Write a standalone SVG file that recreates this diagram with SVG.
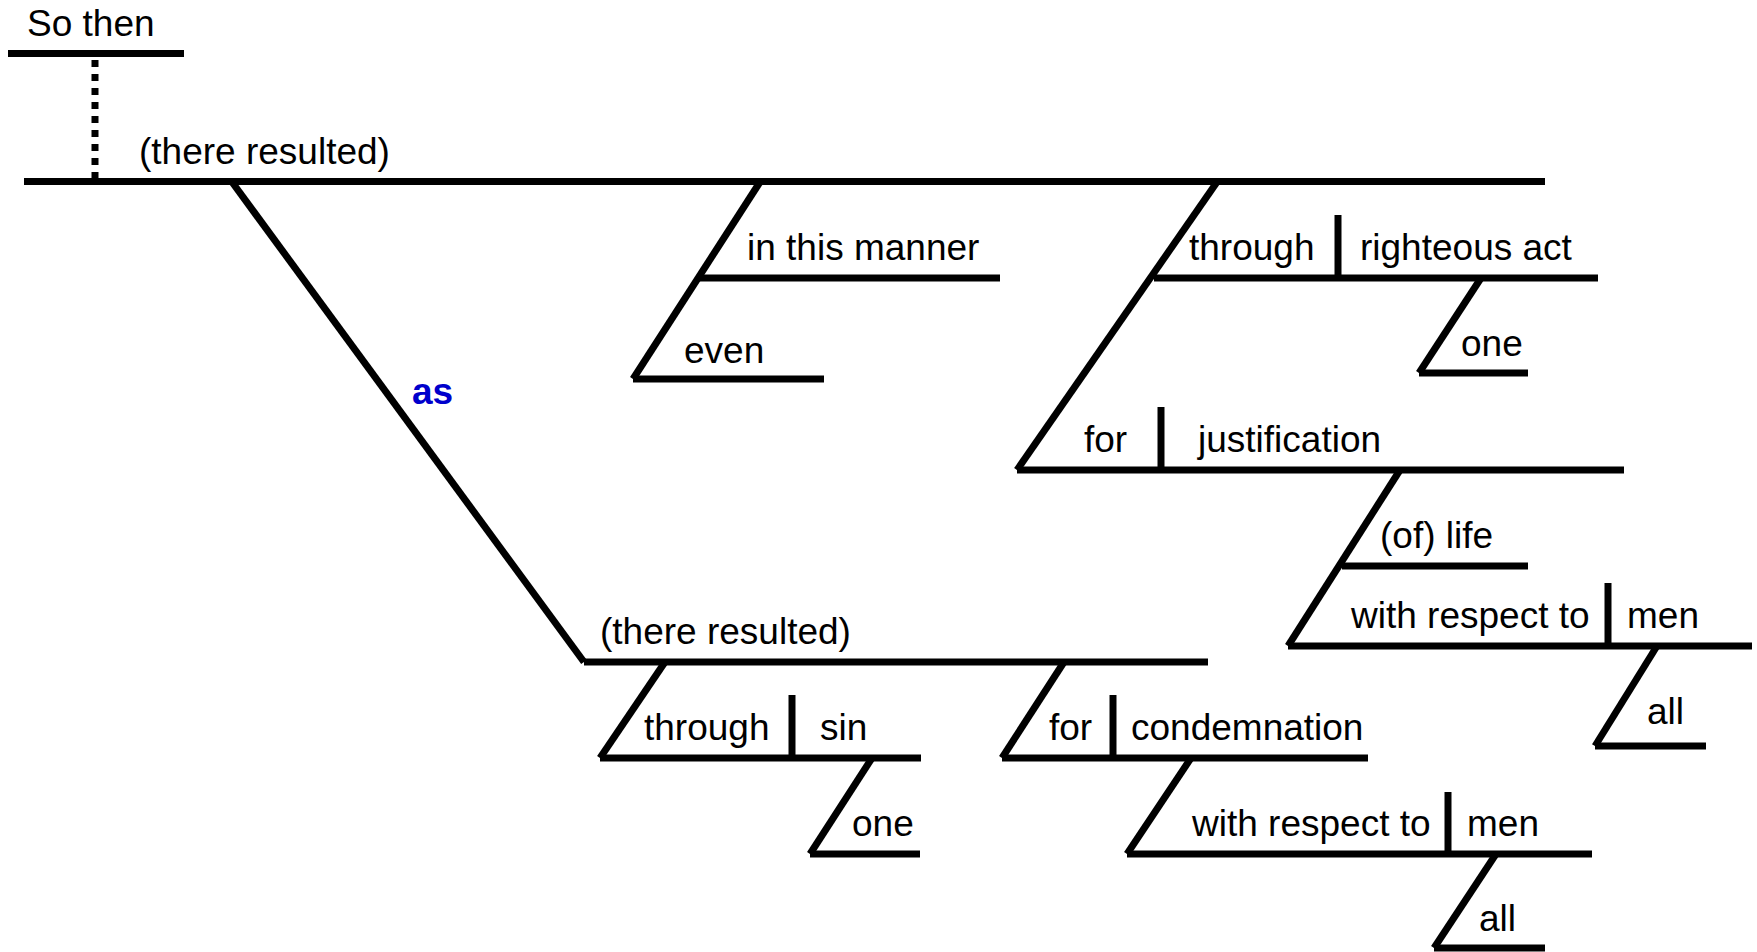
<svg xmlns="http://www.w3.org/2000/svg" width="1757" height="952" viewBox="0 0 1757 952">
  <style>
    .ln { stroke: #000; stroke-width: 7; fill: none; stroke-linecap: butt; }
    .dot { stroke: #000; stroke-width: 7; fill: none; stroke-dasharray: 7 7; }
    .t { font-family: "Liberation Sans", Arial, sans-serif; font-size: 37px; fill: #000; }
    .conj { font-family: "Liberation Sans", Arial, sans-serif; font-size: 37px; font-weight: bold; fill: #0000cc; }
  </style>
  <rect width="1757" height="952" fill="#fff"/>

  <!-- slanted and dotted connectors -->
  <g id="connectors">
    <line class="dot" x1="95" y1="60" x2="95" y2="178"/>
    <line class="ln" x1="232" y1="182" x2="584" y2="662"/>
    <line class="ln" x1="760" y1="182" x2="633" y2="379"/>
    <line class="ln" x1="1217" y1="182" x2="1017" y2="470"/>
    <line class="ln" x1="1481" y1="278" x2="1419" y2="373"/>
    <line class="ln" x1="1400" y1="470" x2="1288" y2="646"/>
    <line class="ln" x1="1657" y1="646" x2="1595" y2="746"/>
    <line class="ln" x1="665" y1="662" x2="600" y2="758"/>
    <line class="ln" x1="872" y1="758" x2="810" y2="854"/>
    <line class="ln" x1="1064" y1="662" x2="1002" y2="758"/>
    <line class="ln" x1="1191" y1="758" x2="1127" y2="854"/>
    <line class="ln" x1="1496" y1="854" x2="1434" y2="948"/>
    <text class="conj" x="412" y="404">as</text>
  </g>

  <g id="so-then">
    <line class="ln" x1="8" y1="53.5" x2="184" y2="53.5"/>
    <text class="t" x="27" y="36">So then</text>
  </g>

  <g id="main-clause">
    <line class="ln" x1="24" y1="181.5" x2="1545" y2="181.5"/>
    <text class="t" x="139" y="164">(there resulted)</text>
  </g>

  <g id="in-this-manner">
    <line class="ln" x1="698" y1="278" x2="1000" y2="278"/>
    <text class="t" x="747" y="260">in this manner</text>
  </g>

  <g id="even">
    <line class="ln" x1="633" y1="379" x2="824" y2="379"/>
    <text class="t" x="684" y="363">even</text>
  </g>

  <g id="through-righteous-act">
    <line class="ln" x1="1154" y1="278" x2="1598" y2="278"/>
    <line class="ln" x1="1338" y1="215" x2="1338" y2="278"/>
    <text class="t" x="1189" y="260">through</text>
    <text class="t" x="1360" y="260">righteous act</text>
  </g>

  <g id="one-upper">
    <line class="ln" x1="1419" y1="373" x2="1528" y2="373"/>
    <text class="t" x="1461" y="356">one</text>
  </g>

  <g id="for-justification">
    <line class="ln" x1="1017" y1="470" x2="1624" y2="470"/>
    <line class="ln" x1="1161" y1="407" x2="1161" y2="470"/>
    <text class="t" x="1084" y="452">for</text>
    <text class="t" x="1198" y="452">justification</text>
  </g>

  <g id="of-life">
    <line class="ln" x1="1342" y1="566" x2="1528" y2="566"/>
    <text class="t" x="1380" y="548">(of) life</text>
  </g>

  <g id="with-respect-to-men-upper">
    <line class="ln" x1="1288" y1="646" x2="1752" y2="646"/>
    <line class="ln" x1="1608" y1="583" x2="1608" y2="646"/>
    <text class="t" x="1351" y="628">with respect to</text>
    <text class="t" x="1627" y="628">men</text>
  </g>

  <g id="all-upper">
    <line class="ln" x1="1595" y1="746" x2="1706" y2="746"/>
    <text class="t" x="1647" y="724">all</text>
  </g>

  <g id="sub-clause">
    <line class="ln" x1="584" y1="662" x2="1208" y2="662"/>
    <text class="t" x="600" y="644">(there resulted)</text>
  </g>

  <g id="through-sin">
    <line class="ln" x1="600" y1="758" x2="921" y2="758"/>
    <line class="ln" x1="792" y1="695" x2="792" y2="758"/>
    <text class="t" x="644" y="740">through</text>
    <text class="t" x="820" y="740">sin</text>
  </g>

  <g id="one-lower">
    <line class="ln" x1="810" y1="854" x2="920" y2="854"/>
    <text class="t" x="852" y="836">one</text>
  </g>

  <g id="for-condemnation">
    <line class="ln" x1="1002" y1="758" x2="1368" y2="758"/>
    <line class="ln" x1="1113" y1="695" x2="1113" y2="758"/>
    <text class="t" x="1049" y="740">for</text>
    <text class="t" x="1131" y="740">condemnation</text>
  </g>

  <g id="with-respect-to-men-lower">
    <line class="ln" x1="1127" y1="854" x2="1592" y2="854"/>
    <line class="ln" x1="1448" y1="792" x2="1448" y2="854"/>
    <text class="t" x="1192" y="836">with respect to</text>
    <text class="t" x="1467" y="836">men</text>
  </g>

  <g id="all-lower">
    <line class="ln" x1="1434" y1="948" x2="1545" y2="948"/>
    <text class="t" x="1479" y="931">all</text>
  </g>
</svg>
